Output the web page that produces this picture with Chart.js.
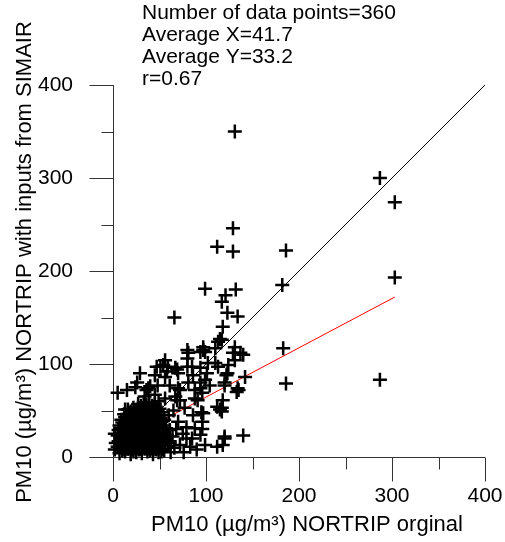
<!DOCTYPE html>
<html>
<head>
<meta charset="utf-8">
<script src="https://cdn.jsdelivr.net/npm/chart.js@4.4.1/dist/chart.umd.min.js"></script>
<style>
  html, body { margin: 0; padding: 0; background: #fff; }
  canvas { display: block; }
</style>
</head>
<body>
<canvas id="scatter" width="505" height="542"></canvas>
<script>
const FONT = '"Liberation Sans", Arial, sans-serif';

// [NORTRIP orginal, NORTRIP with SIMAIR inputs]
const scatterPairs = [
  // outliers
  [131, 350], [287, 300], [303, 274], [129, 246], [112, 226], [129, 221], [186, 222],
  [303, 193], [99, 181], [132, 180], [182, 185], [121, 174], [117, 167], [123, 155],
  [134, 151], [118, 140], [115, 127], [183, 117], [186, 79], [287, 83], [66, 150],
  // x 80-145
  [117, 126], [131, 118], [129, 112], [140, 110], [124, 99], [110, 101], [123, 90],
  [142, 86], [120, 80], [133, 70], [134, 74], [117, 53], [117, 49], [97, 47],
  [140, 23], [120, 20], [118, 13], [99, 13], [99, 113], [102, 101], [81, 112],
  [101, 90], [91, 61], [88, 72], [99, 83], [97, 118], [110, 117], [137, 112],
  [131, 104], [122, 88], [135, 72], [112, 54], [115, 51], [113, 124], [80, 115],
  [97, 115], [113, 97], [118, 61], [120, 77], [104, 77], [96, 69], [94, 80], [94, 113],
  // upper left
  [29, 90], [5, 69], [15, 72], [24, 75], [36, 72], [47, 97], [54, 99], [80, 97],
  [69, 94], [58, 92], [40, 76], [72, 72], [72, 61], [13, 51], [56, 104], [80, 106],
  [51, 97], [59, 97], [67, 96], [85, 97], [94, 96], [45, 88], [56, 86], [70, 90],
  [86, 88], [26, 80], [38, 74], [48, 77], [61, 77], [70, 74], [81, 80], [94, 74],
  [34, 65], [45, 67], [56, 63], [67, 65], [88, 63],
  // lower middle
  [69, 61], [77, 53], [86, 45], [95, 48], [70, 38], [79, 32], [88, 31], [94, 24],
  [79, 20], [72, 13], [83, 11], [120, 22], [112, 11], [61, 29], [61, 15], [62, 5],
  [66, 10], [64, 22], [68, 30], [60, 45], [65, 50], [75, 25], [85, 20], [90, 8],
  [96, 30], [76, 5], [96, 38],
  // dense cluster
  [7, 4], [13, 6], [19, 3], [25, 5], [31, 4], [37, 6], [43, 3], [49, 5], [55, 7], [20, 8],
  [5, 11], [11, 9], [17, 12], [23, 10], [29, 9], [35, 12], [41, 10], [47, 11], [53, 9], [59, 12],
  [6, 17], [12, 15], [18, 16], [24, 18], [30, 15], [36, 17], [42, 16], [48, 18], [54, 15], [61, 17],
  [5, 23], [10, 21], [16, 22], [22, 24], [28, 21], [34, 23], [40, 22], [46, 24], [52, 21], [58, 23],
  [6, 29], [12, 27], [18, 28], [24, 30], [30, 27], [36, 29], [42, 28], [48, 30], [54, 27], [57, 31],
  [7, 34], [13, 35], [19, 33], [25, 36], [31, 34], [37, 35], [43, 33], [49, 36], [55, 34],
  [9, 40], [15, 41], [21, 39], [27, 42], [33, 40], [39, 41], [45, 39], [51, 42], [55, 40],
  [12, 46], [18, 47], [24, 45], [30, 48], [36, 46], [42, 47], [48, 45], [52, 48],
  [16, 51], [22, 53], [28, 52], [34, 54], [40, 51], [46, 53], [50, 52],
  [27, 57], [33, 59], [39, 58], [45, 57], [49, 60],
  [2, 8], [3, 15], [2, 25],
  [10, 7], [16, 9], [22, 6], [28, 8], [34, 9], [40, 7], [46, 8], [52, 6],
  [8, 13], [14, 13], [20, 14], [26, 13], [32, 12], [38, 14], [44, 13], [50, 14], [56, 13],
  [9, 19], [15, 19], [21, 20], [27, 18], [33, 20], [39, 19], [45, 20], [51, 18], [57, 19],
  [8, 25], [13, 25], [19, 26], [25, 25], [31, 24], [37, 26], [43, 25], [49, 26], [55, 25],
  [9, 31], [15, 32], [21, 31], [27, 32], [33, 31], [39, 32], [45, 31], [51, 33],
  [10, 37], [16, 38], [22, 37], [28, 38], [34, 37], [40, 38], [46, 37], [52, 38],
  [13, 43], [19, 44], [25, 43], [31, 44], [37, 43], [43, 44], [49, 42],
  [19, 49], [25, 50], [31, 49], [37, 50], [43, 49], [48, 50],
  [30, 55], [36, 56], [42, 55]
];

// 1:1 line and fitted line end points
const oneToOne = [[0, 0], [400, 400]];
const regression = [[3, 13], [303, 172]];

const majorTicks = [0, 100, 200, 300, 400];
const minorTicks = [50, 150, 250, 350];

const stats = ['Number of data points=360', 'Average X=41.7', 'Average Y=33.2', 'r=0.67'];
const xTitle = 'PM10 (µg/m³) NORTRIP orginal';
const yTitle = 'PM10 (µg/m³) NORTRIP with inputs from SIMAIR';

const toXY = (pairs) => pairs.map(([x, y]) => ({ x, y }));

// axis lines + long/short ticks, like the original plot
const axesPlugin = {
  id: 'axes',
  beforeDatasetsDraw(chart) {
    const { ctx, scales: { x, y } } = chart;
    const x0 = Math.round(x.getPixelForValue(0)) + 0.5;
    const y0 = Math.round(y.getPixelForValue(0)) + 0.5;
    const xEnd = x.getPixelForValue(400);
    const yEnd = y.getPixelForValue(400);
    ctx.save();
    ctx.strokeStyle = '#333';
    ctx.lineWidth = 1;
    ctx.beginPath();
    ctx.moveTo(x0, y0);
    ctx.lineTo(xEnd, y0);
    ctx.moveTo(x0, y0);
    ctx.lineTo(x0, yEnd);
    majorTicks.forEach((v) => {
      const px = Math.round(x.getPixelForValue(v)) + 0.5;
      ctx.moveTo(px, y0);
      ctx.lineTo(px, y0 + 24);
      const py = Math.round(y.getPixelForValue(v)) + 0.5;
      ctx.moveTo(x0, py);
      ctx.lineTo(x0 - 24, py);
    });
    minorTicks.forEach((v) => {
      const px = Math.round(x.getPixelForValue(v)) + 0.5;
      ctx.moveTo(px, y0);
      ctx.lineTo(px, y0 + 12);
      const py = Math.round(y.getPixelForValue(v)) + 0.5;
      ctx.moveTo(x0, py);
      ctx.lineTo(x0 - 12, py);
    });
    ctx.stroke();
    ctx.restore();
  },
  afterDraw(chart) {
    const { ctx } = chart;
    ctx.save();
    ctx.fillStyle = '#000';
    ctx.font = '21px ' + FONT;
    ctx.textAlign = 'left';
    ctx.textBaseline = 'alphabetic';
    stats.forEach((s, i) => ctx.fillText(s, 142, 19 + i * 22));

    ctx.font = '22px ' + FONT;
    ctx.textAlign = 'center';
    ctx.textBaseline = 'middle';
    ctx.fillText(xTitle, 307, 525);

    ctx.translate(25, 262);
    ctx.rotate(-Math.PI / 2);
    ctx.fillText(yTitle, 0, 0);
    ctx.restore();
  }
};

const noPad = (s) => {
  s.paddingLeft = 0; s.paddingRight = 0; s.paddingTop = 0; s.paddingBottom = 0;
};

new Chart(document.getElementById('scatter'), {
  type: 'scatter',
  data: {
    datasets: [
      {
        data: toXY(scatterPairs),
        pointStyle: 'cross',
        pointRadius: 7,
        borderWidth: 2.5,
        borderColor: '#000',
        backgroundColor: '#000',
        clip: false,
        order: 0,
      },
      {
        data: toXY(oneToOne),
        showLine: true,
        pointRadius: 0,
        borderWidth: 1,
        borderColor: '#000',
        order: 1,
      },
      {
        data: toXY(regression),
        showLine: true,
        pointRadius: 0,
        borderWidth: 1,
        borderColor: '#ff0000',
        order: 2,
      },
    ],
  },
  options: {
    responsive: false,
    animation: false,
    devicePixelRatio: 1,
    layout: { padding: { top: 85, right: 20, left: 0, bottom: 0 } },
    plugins: { legend: { display: false }, tooltip: { enabled: false } },
    scales: {
      x: {
        type: 'linear',
        min: 0,
        max: 400,
        afterBuildTicks: (s) => { s.ticks = majorTicks.map((v) => ({ value: v })); },
        afterFit: (s) => { s.height = 85; noPad(s); },
        ticks: { color: '#000', font: { family: FONT, size: 21 }, padding: 27, maxRotation: 0 },
        grid: { display: false, drawTicks: false },
        border: { display: false },
      },
      y: {
        type: 'linear',
        min: 0,
        max: 400,
        afterBuildTicks: (s) => { s.ticks = majorTicks.map((v) => ({ value: v })); },
        afterFit: (s) => { s.width = 113; noPad(s); },
        ticks: { color: '#000', font: { family: FONT, size: 21 }, padding: 40 },
        grid: { display: false, drawTicks: false },
        border: { display: false },
      },
    },
  },
  plugins: [axesPlugin],
});
</script>
</body>
</html>
